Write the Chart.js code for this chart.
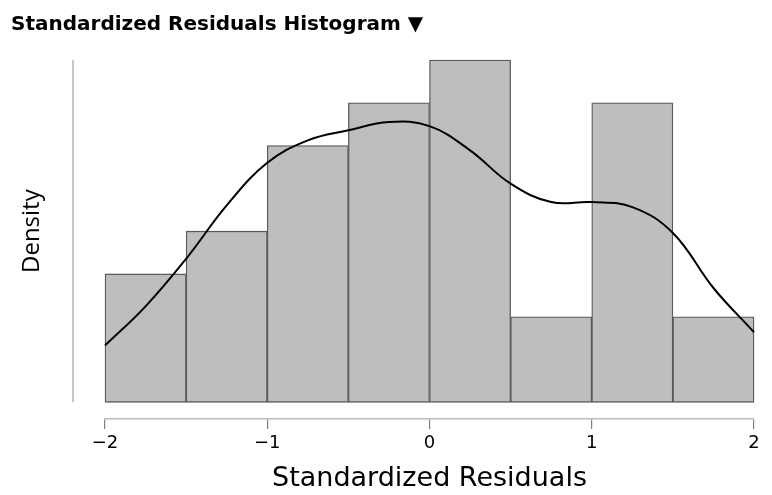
<!DOCTYPE html>
<html>
<head>
<meta charset="utf-8">
<script src="https://cdn.jsdelivr.net/npm/chart.js@4.4.1/dist/chart.umd.min.js"></script>
<style>
  html, body { margin: 0; padding: 0; background: #ffffff; }
  #wrap { width: 772px; height: 495px; }
</style>
</head>
<body>
<div id="wrap"><canvas id="chart-residuals" width="772" height="495"></canvas></div>
<script>
// histogram bins of the standardized residuals
var bin_edges = [-2, -1.5, -1, -0.5, 0, 0.5, 1, 1.5, 2];
var bin_counts = [3, 4, 6, 7, 8, 2, 7, 2];

// density curve
var curve_x = [-2, -1.75, -1.5, -1.25, -1, -0.75, -0.5, -0.25, 0, 0.25, 0.5, 0.75, 1, 1.25, 1.5, 1.75, 2];
var curve_y = [0.068, 0.115, 0.172, 0.236, 0.287, 0.314, 0.326, 0.336, 0.331, 0.302, 0.262, 0.240, 0.240, 0.234, 0.203, 0.137, 0.084];

var x_ticks = [-2, -1, 0, 1, 2];

// counts -> density
var bin_width = bin_edges[1] - bin_edges[0];
var total = bin_counts.reduce(function (a, b) { return a + b; }, 0);
var bar_data = bin_counts.map(function (c, i) {
    return { x: (bin_edges[i] + bin_edges[i + 1]) / 2, y: c / (total * bin_width) };
});
var line_data = curve_x.map(function (x, i) { return { x: x, y: curve_y[i] }; });
var y_top = Math.max.apply(null, bar_data.map(function (d) { return d.y; }));

// y axis line + its title sit detached to the left of the bars
var detachedAxis = {
    id: 'detachedAxis',
    afterDraw: function (chart) {
        var ctx = chart.ctx;
        var ys = chart.scales.y;
        var xpos = chart.chartArea.left - 32;
        var top = ys.getPixelForValue(y_top);
        var bottom = ys.getPixelForValue(0);
        ctx.save();
        ctx.strokeStyle = '#b4b4b4';
        ctx.lineWidth = 1.5;
        ctx.beginPath();
        ctx.moveTo(xpos, top);
        ctx.lineTo(xpos, bottom);
        ctx.stroke();

        ctx.translate(32, (top + bottom) / 2);
        ctx.rotate(-Math.PI / 2);
        ctx.fillStyle = '#000000';
        ctx.font = '24px "Open Sans"';
        ctx.textAlign = 'center';
        ctx.textBaseline = 'middle';
        ctx.fillText('Density', 0, 0);
        ctx.restore();
    }
};

var ctx = document.getElementById('chart-residuals').getContext('2d');
var chart_residuals = new Chart(ctx, {
    type: 'bar',
    data: {
        datasets: [{
            type: 'line',
            label: 'density',
            data: line_data,
            borderColor: '#000000',
            borderWidth: 2,
            pointRadius: 0,
            tension: 0.4,
            fill: false,
            clip: false,
            order: 0
        }, {
            type: 'bar',
            label: 'histogram',
            data: bar_data,
            backgroundColor: '#bebebe',
            borderColor: '#5a5a5a',
            borderWidth: 1.3,
            borderSkipped: false,
            barPercentage: 1,
            categoryPercentage: 1,
            clip: false,
            order: 1
        }]
    },
    options: {
        responsive: false,
        animation: false,
        layout: { padding: { left: 11, right: 18, top: 0, bottom: 0 } },
        plugins: {
            legend: { display: false },
            tooltip: { enabled: false },
            title: {
                display: true,
                text: 'Standardized Residuals Histogram \u25BC',
                align: 'start',
                color: '#000000',
                font: { family: 'DejaVu Sans', size: 20, weight: 'bold' },
                padding: { top: 13, bottom: 23 }
            }
        },
        scales: {
            x: {
                type: 'linear',
                min: -2,
                max: 2,
                offset: false,
                afterBuildTicks: function (scale) {
                    scale.ticks = x_ticks.map(function (v) { return { value: v }; });
                },
                afterFit: function (scale) { scale.height = 76; },
                grid: {
                    display: true,
                    drawOnChartArea: false,
                    drawTicks: true,
                    tickLength: 10,
                    color: '#808080',
                    lineWidth: 1.2,
                    offset: false
                },
                border: { display: true, color: '#bcbcbc', width: 1.5 },
                ticks: {
                    color: '#000000',
                    padding: 4,
                    maxRotation: 0,
                    font: { family: 'DejaVu Sans', size: 18 },
                    callback: function (v) { return String(v).replace('-', '\u2212'); }
                },
                title: {
                    display: true,
                    text: 'Standardized Residuals',
                    color: '#000000',
                    font: { family: 'DejaVu Sans', size: 27 },
                    padding: { top: 0, bottom: 0 }
                }
            },
            y: {
                min: -0.02,
                max: y_top,
                afterFit: function (scale) { scale.width = 94; },
                grid: { display: false },
                border: { display: false },
                ticks: { display: false },
                title: { display: false }
            }
        }
    },
    plugins: [detachedAxis]
});
</script>
</body>
</html>
